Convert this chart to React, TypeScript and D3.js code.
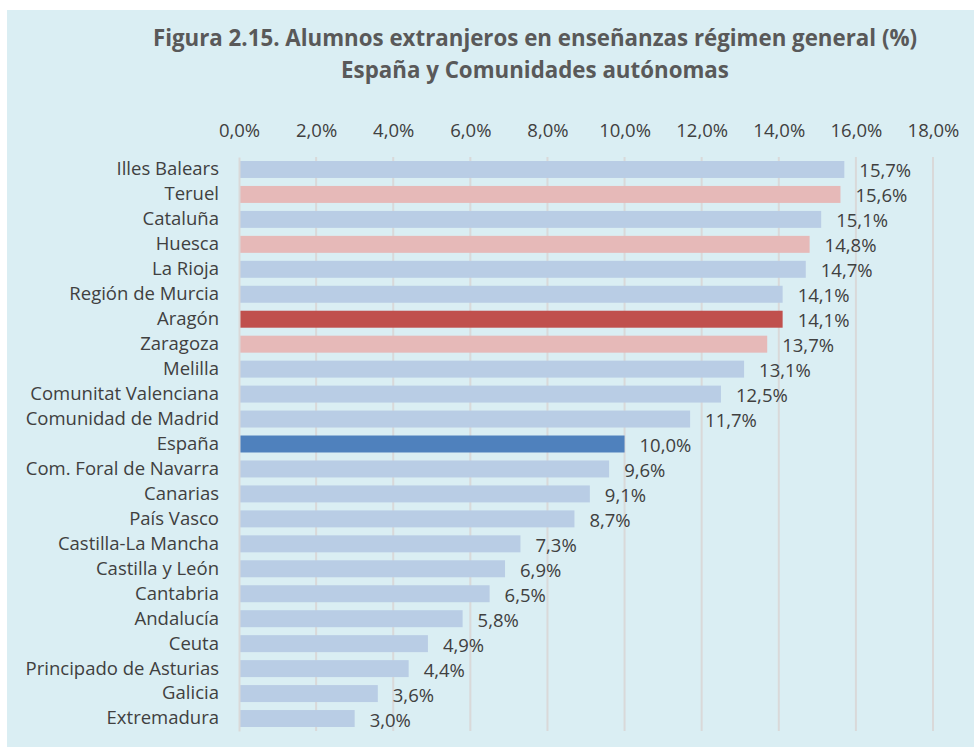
import { useEffect, useRef } from 'react'
import * as d3 from 'd3'

const regions = [
  'Illes Balears', 'Teruel', 'Cataluña', 'Huesca', 'La Rioja', 'Región de Murcia',
  'Aragón', 'Zaragoza', 'Melilla', 'Comunitat Valenciana', 'Comunidad de Madrid',
  'España', 'Com. Foral de Navarra', 'Canarias', 'País Vasco', 'Castilla-La Mancha',
  'Castilla y León', 'Cantabria', 'Andalucía', 'Ceuta', 'Principado de Asturias',
  'Galicia', 'Extremadura',
]
const values = [
  15.7, 15.6, 15.1, 14.8, 14.7, 14.1, 14.1, 13.7, 13.1, 12.5, 11.7, 10.0, 9.6, 9.1,
  8.7, 7.3, 6.9, 6.5, 5.8, 4.9, 4.4, 3.6, 3.0,
]
// bar type: a = Aragón, e = España, p = Aragón provinces, o = others
const kinds = [
  'o', 'p', 'o', 'p', 'o', 'o', 'a', 'p', 'o', 'o', 'o', 'e', 'o', 'o', 'o', 'o', 'o',
  'o', 'o', 'o', 'o', 'o', 'o',
]
const xTicks = [0, 2, 4, 6, 8, 10, 12, 14, 16, 18]
const titleLines = [
  'Figura 2.15. Alumnos extranjeros en enseñanzas régimen general (%)',
  'España y Comunidades autónomas',
]

const colors: Record<string, string> = {
  o: '#b9cde5',
  p: '#e6b9b8',
  a: '#c0504d',
  e: '#4f81bd',
}

const fmt = (v: number) => v.toFixed(1).replace('.', ',') + '%'

const App = () => {
  const ref = useRef<SVGSVGElement>(null)

  useEffect(() => {
    const svg = d3.select(ref.current)
    svg.selectAll('*').remove()

    const W = 974
    const H = 747
    const font = '"Open Sans", Lato, sans-serif'
    const textColor = '#404040'
    const fs = 18.5

    // panel background
    svg.append('rect').attr('x', 7).attr('y', 10).attr('width', W - 7).attr('height', H - 10)
      .attr('fill', '#daeef3')

    // title
    svg.append('g').selectAll('text').data(titleLines).enter().append('text')
      .attr('x', 535)
      .attr('y', (_, i) => 46 + i * 32)
      .attr('text-anchor', 'middle')
      .attr('font-family', font)
      .attr('font-weight', 'bold')
      .attr('font-size', 22.3)
      .attr('fill', '#595959')
      .text((d) => d)

    const x = d3.scaleLinear().domain([0, 18]).range([239, 933])
    const y = d3.scaleBand().domain(regions).range([157, 731]).paddingInner(0.32).paddingOuter(0.16)

    // gridlines
    svg.append('g').selectAll('line').data(xTicks.slice(1)).enter().append('line')
      .attr('x1', (d) => x(d)).attr('x2', (d) => x(d))
      .attr('y1', 157).attr('y2', 731)
      .attr('stroke', '#d9d9d9').attr('stroke-width', 2)

    // top axis labels
    const xAxis = d3.axisTop(x).tickValues(xTicks).tickSize(0).tickPadding(0)
      .tickFormat((d) => fmt(d as number))
    const gx = svg.append('g').attr('transform', 'translate(0,137)').call(xAxis)
    gx.select('.domain').remove()
    gx.selectAll('text').attr('font-family', font).attr('font-size', fs).attr('fill', textColor)

    // bars
    svg.append('g').selectAll('rect').data(values).enter().append('rect')
      .attr('x', x(0))
      .attr('y', (_, i) => y(regions[i])!)
      .attr('width', (d) => x(d) - x(0))
      .attr('height', y.bandwidth())
      .attr('fill', (_, i) => colors[kinds[i]])

    // value labels
    svg.append('g').selectAll('text').data(values).enter().append('text')
      .attr('x', (d) => x(d) + 15)
      .attr('y', (_, i) => y(regions[i])! + y.bandwidth() / 2 + 8)
      .attr('font-family', font).attr('font-size', fs).attr('fill', textColor)
      .text((d) => fmt(d))

    // category axis
    const yAxis = d3.axisLeft(y).tickSize(0).tickPadding(20)
    const gy = svg.append('g').attr('transform', `translate(${x(0)},0)`).call(yAxis)
    gy.select('.domain').attr('stroke', '#d9d9d9').attr('stroke-width', 2)
    gy.selectAll('text').attr('font-family', font).attr('font-size', fs).attr('fill', textColor)
  }, [])

  return (
    <svg
      ref={ref}
      width={974}
      height={747}
      style={{ position: 'absolute', left: 0, top: 0, background: '#fff' }}
    />
  )
}

export default App
